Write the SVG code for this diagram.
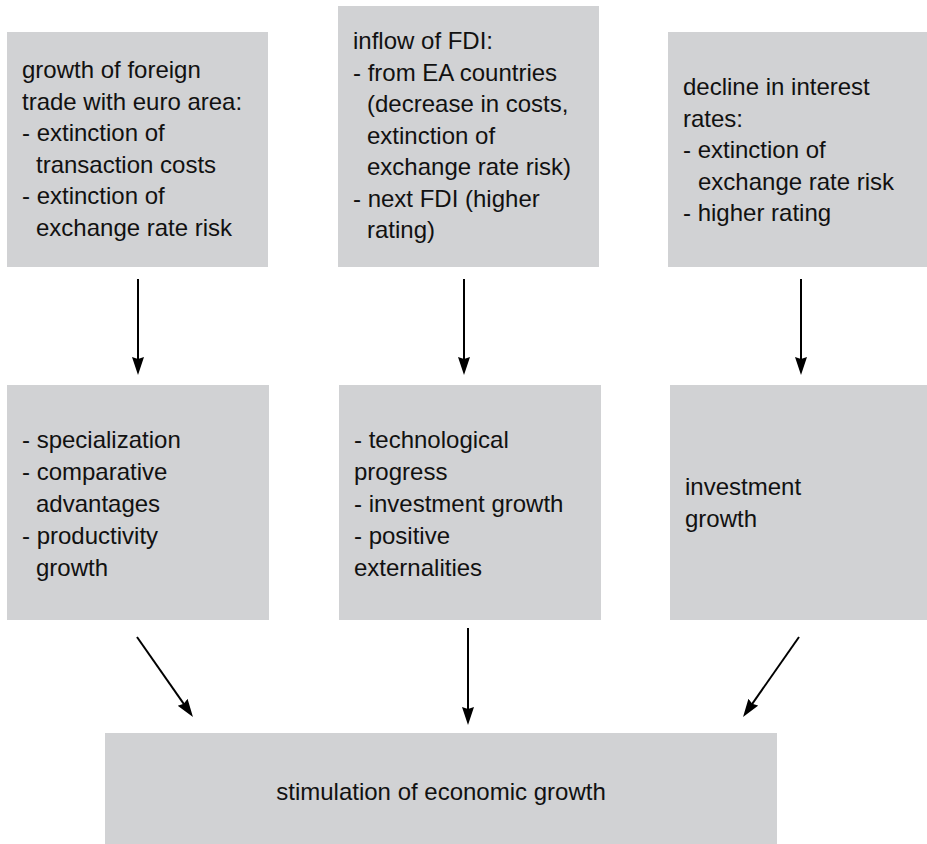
<svg xmlns="http://www.w3.org/2000/svg" width="927" height="844" viewBox="0 0 927 844">
<style>
.box{fill:#d1d2d4;}
.t{font-family:"Liberation Sans",Arial,sans-serif;font-size:24px;fill:#111;}
.c{text-anchor:middle;}
.arr{stroke:#000;stroke-width:2;fill:none;marker-end:url(#ah);}
</style>
<defs>
<marker id="ah" markerUnits="userSpaceOnUse" markerWidth="20" markerHeight="14" refX="9" refY="6" orient="auto">
<path d="M0,0 L18,6 L0,12 L2,6 Z" fill="#000"/>
</marker>
</defs>
<rect width="927" height="844" fill="#fff"/>
<g id="n1">
<rect class="box" x="7" y="32" width="261" height="235"/>
<text class="t"><tspan x="22" y="78">growth of foreign</tspan><tspan x="22" y="109.5">trade with euro area:</tspan><tspan x="22" y="141">- extinction of</tspan><tspan x="36" y="172.5">transaction costs</tspan><tspan x="22" y="204">- extinction of</tspan><tspan x="36" y="235.5">exchange rate risk</tspan></text>
</g>
<g id="n2">
<rect class="box" x="338" y="6" width="261" height="261"/>
<text class="t"><tspan x="353" y="49">inflow of FDI:</tspan><tspan x="353" y="80.5">- from EA countries</tspan><tspan x="367" y="112">(decrease in costs,</tspan><tspan x="367" y="143.5">extinction of</tspan><tspan x="367" y="175">exchange rate risk)</tspan><tspan x="353" y="206.5">- next FDI (higher</tspan><tspan x="367" y="238">rating)</tspan></text>
</g>
<g id="n3">
<rect class="box" x="668" y="32" width="259" height="235"/>
<text class="t"><tspan x="683" y="95">decline in interest</tspan><tspan x="683" y="126.5">rates:</tspan><tspan x="683" y="158">- extinction of</tspan><tspan x="698" y="189.5">exchange rate risk</tspan><tspan x="683" y="221">- higher rating</tspan></text>
</g>
<g id="n4">
<rect class="box" x="7" y="385" width="262" height="235"/>
<text class="t"><tspan x="22" y="448">- specialization</tspan><tspan x="22" y="480">- comparative</tspan><tspan x="36" y="512">advantages</tspan><tspan x="22" y="544">- productivity</tspan><tspan x="36" y="576">growth</tspan></text>
</g>
<g id="n5">
<rect class="box" x="339" y="385" width="262" height="235"/>
<text class="t"><tspan x="354" y="448">- technological</tspan><tspan x="354" y="480">progress</tspan><tspan x="354" y="512">- investment growth</tspan><tspan x="354" y="544">- positive</tspan><tspan x="354" y="576">externalities</tspan></text>
</g>
<g id="n6">
<rect class="box" x="670" y="385" width="257" height="235"/>
<text class="t"><tspan x="685" y="495">investment</tspan><tspan x="685" y="527">growth</tspan></text>
</g>
<g id="n7">
<rect class="box" x="105" y="733" width="672" height="111"/>
<text class="t c" x="441" y="800">stimulation of economic growth</text>
</g>
<g id="connectors">
<line class="arr" x1="138" y1="279" x2="138" y2="366"/>
<line class="arr" x1="464" y1="279" x2="464" y2="366"/>
<line class="arr" x1="801" y1="279" x2="801" y2="366"/>
<line class="arr" x1="137" y1="637" x2="187.8" y2="709.6"/>
<line class="arr" x1="468" y1="628" x2="468" y2="716"/>
<line class="arr" x1="799" y1="637" x2="748.2" y2="709.6"/>
</g>
</svg>
